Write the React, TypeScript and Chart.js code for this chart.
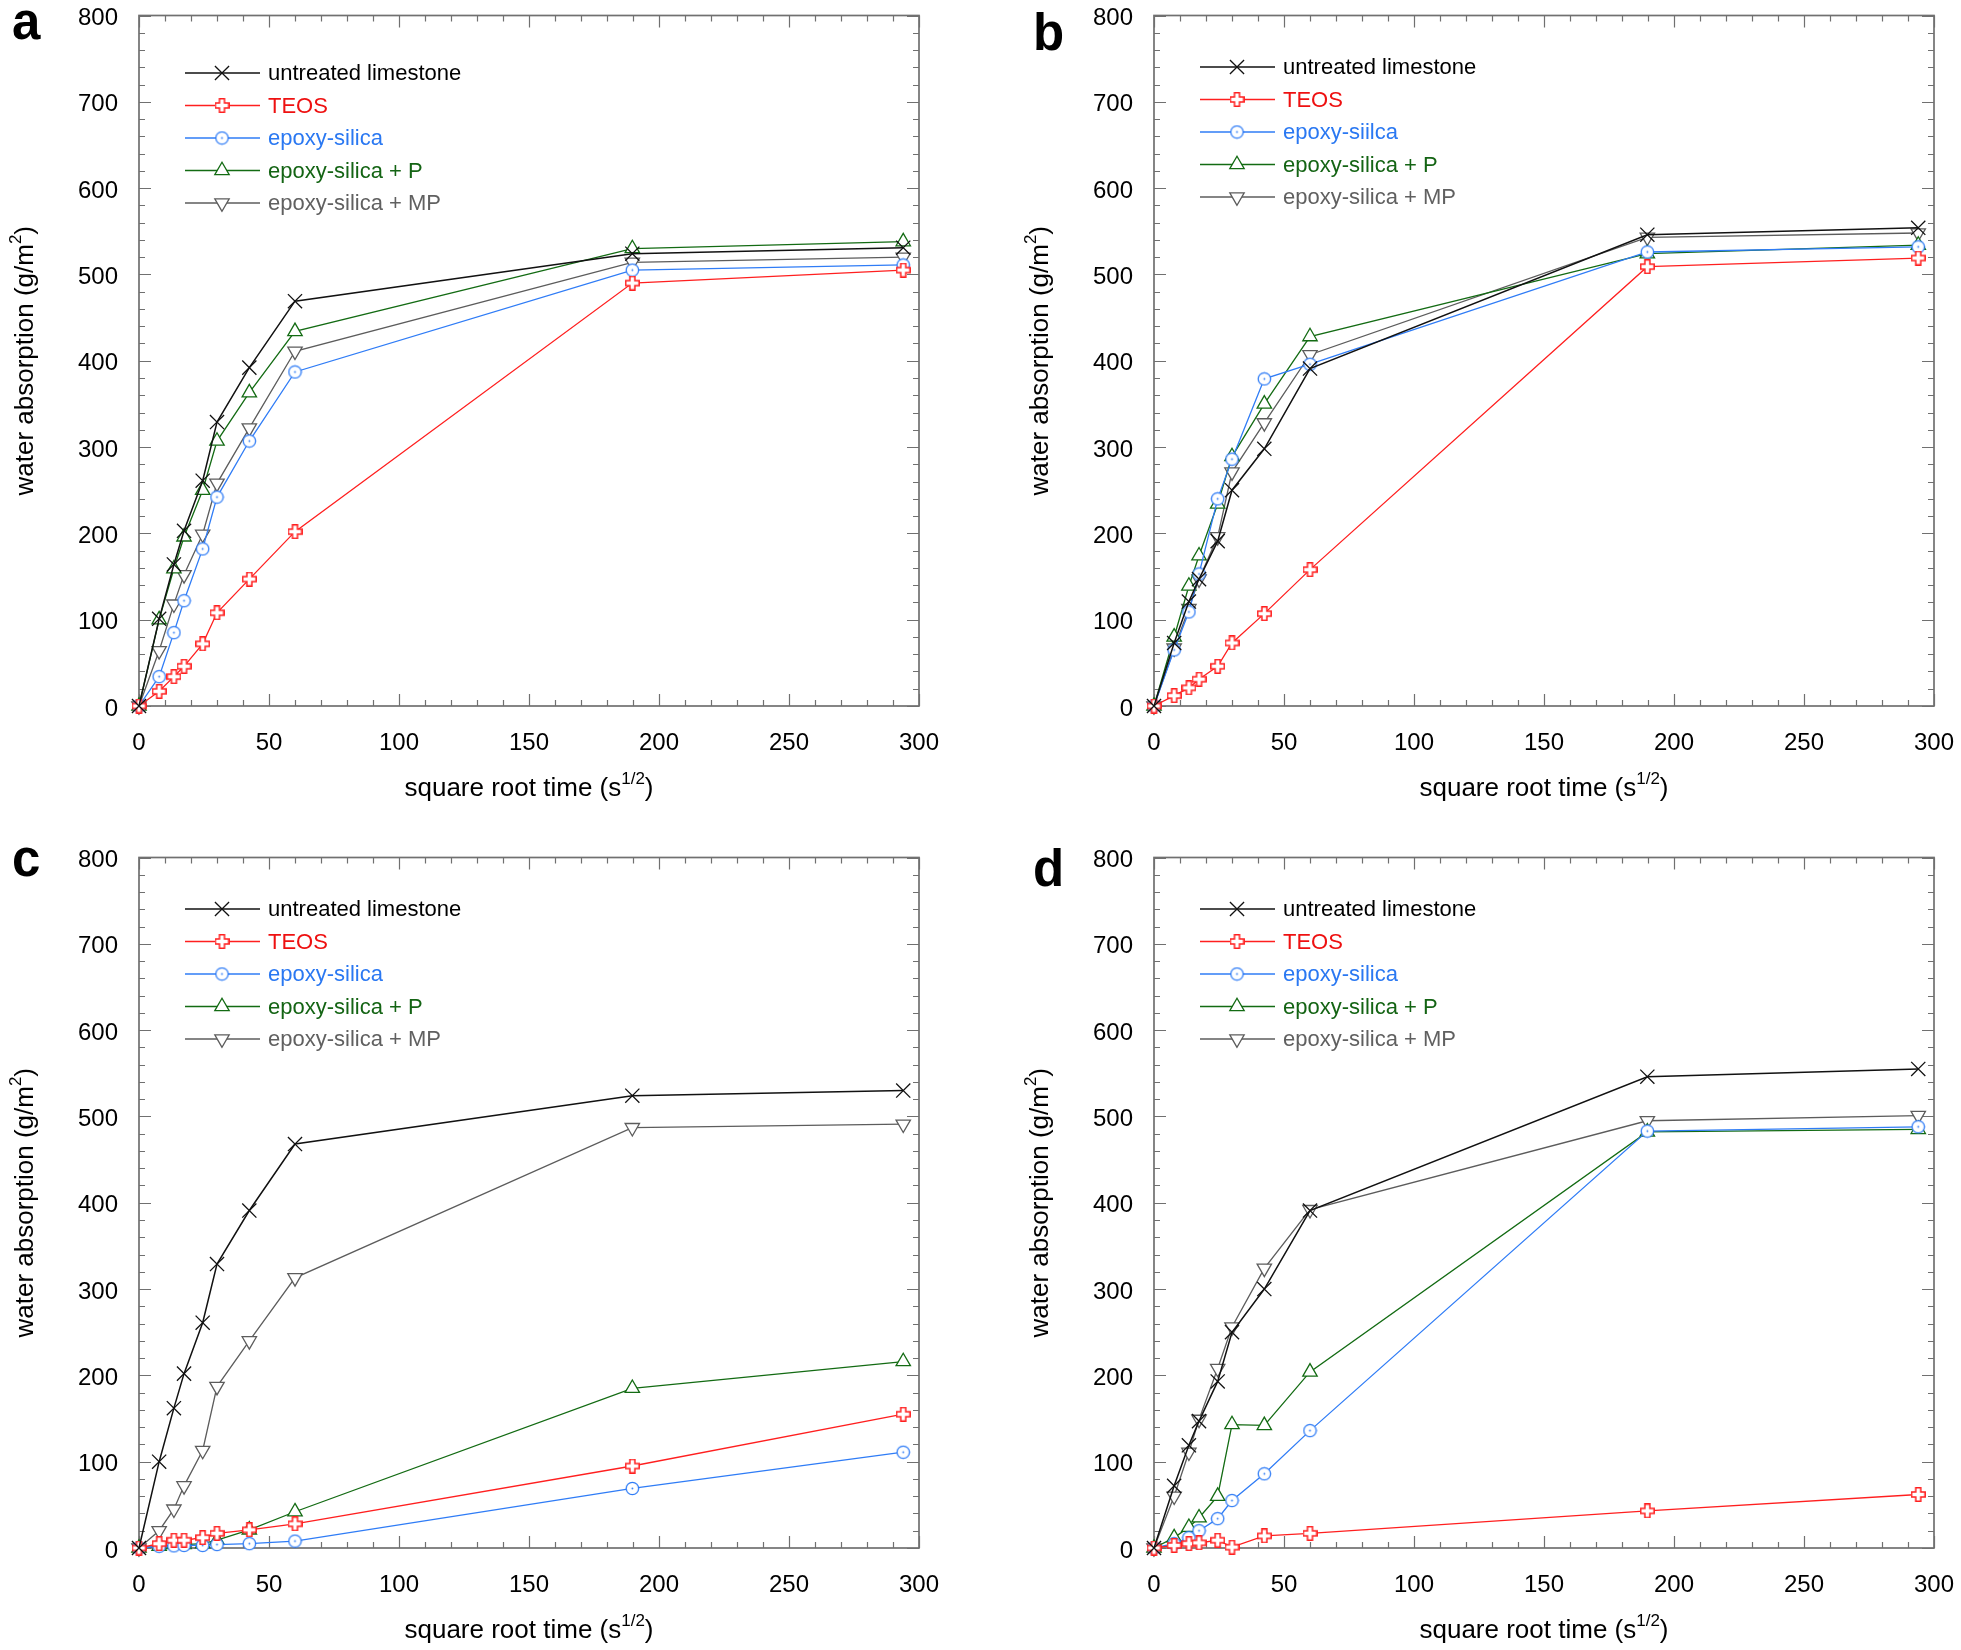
import React, { useEffect, useRef } from 'react';
import { Chart, registerables } from 'chart.js';
import { drawPoint } from 'chart.js/helpers';

Chart.register(...registerables);

// ---------- data ----------
const SQRT_TIME = [0, 7.75, 13.42, 17.32, 24.49, 30.0, 42.43, 60.0, 189.74, 293.94];

const X_TICKS = [0, 50, 100, 150, 200, 250, 300];
const Y_TICKS = [0, 100, 200, 300, 400, 500, 600, 700, 800];

const NAMES = ['untreated limestone', 'TEOS', 'epoxy-silica', 'epoxy-silica + P', 'epoxy-silica + MP'];
const NAMES_B = ['untreated limestone', 'TEOS', 'epoxy-siilca', 'epoxy-silica + P', 'epoxy-silica + MP'];

const A_UNTREATED = [0, 101, 164, 203, 261, 329, 392, 469, 524, 531];
const A_TEOS = [0, 17, 34, 46, 72, 108, 147, 202, 490, 505];
const A_EPOXY = [0, 34, 85, 122, 182, 242, 307, 387, 505, 511];
const A_EPOXY_P = [0, 100, 159, 196, 250, 307, 363, 434, 530, 538];
const A_EPOXY_MP = [0, 64, 118, 152, 199, 258, 322, 411, 514, 520];

const B_UNTREATED = [0, 73, 121, 147, 191, 250, 298, 391, 546, 554];
const B_TEOS = [0, 12, 21, 31, 46, 73, 107, 158, 509, 519];
const B_EPOXY = [0, 65, 109, 153, 240, 286, 379, 396, 526, 532];
const B_EPOXY_P = [0, 80, 139, 174, 234, 289, 350, 428, 524, 534];
const B_EPOXY_MP = [0, 67, 113, 147, 196, 271, 328, 407, 543, 548];

const C_UNTREATED = [0, 100, 162, 202, 261, 329, 391, 468, 524, 530];
const C_TEOS = [0, 5, 9, 9, 12, 17, 21, 28, 95, 155];
const C_EPOXY = [0, 2, 2.5, 3, 3, 4, 5, 8, 69, 111];
const C_EPOXY_P = [0, 2, 4, 4, 5, 9, 21, 42, 185, 216];
const C_EPOXY_MP = [0, 20, 45, 72, 113, 187, 240, 313, 487, 491];

const D_UNTREATED = [0, 72, 119, 147, 193, 250, 300, 391, 546, 555];
const D_TEOS = [0, 3, 5, 6, 9, 1, 14, 17, 43, 62];
const D_EPOXY = [0, 5, 12, 20, 34, 55, 86, 136, 483, 488];
const D_EPOXY_P = [0, 12, 24, 35, 60, 143, 142, 204, 482, 485];
const D_EPOXY_MP = [0, 60, 111, 149, 208, 256, 324, 392, 495, 501];

// ---------- layout / style ----------
const W = 946;
const H = 808;
const PLOT_LEFT = 139;
const PLOT_RIGHT = 919;
const PLOT_TOP = 15.5;
const PLOT_BOTTOM = 706;
const FONT = '"Liberation Sans", Arial, Helvetica, sans-serif';

type Style = { line: string; text: string; kind: string; radius: number; rotation: number; width: number };
const SERIES_STYLE: Style[] = [
  { line: '#111111', text: '#000000', kind: 'crossRot', radius: 10, rotation: 0, width: 1.5 },
  { line: '#ff1f1f', text: '#ee1111', kind: 'plus', radius: 7, rotation: 0, width: 1.3 },
  { line: '#2f7cf6', text: '#2a78f2', kind: 'circleDot', radius: 7, rotation: 0, width: 1.3 },
  { line: '#136b13', text: '#146414', kind: 'triangle', radius: 8.3, rotation: 0, width: 1.3 },
  { line: '#5c5c5c', text: '#606060', kind: 'triangle', radius: 8.3, rotation: 180, width: 1.3 },
];

const PANELS = [
  { letter: 'a', left: 0, top: 0, letterX: 12, letterY: 39, legendTop: 73, names: NAMES,
    values: [A_UNTREATED, A_TEOS, A_EPOXY, A_EPOXY_P, A_EPOXY_MP] },
  { letter: 'b', left: 1015, top: 0, letterX: 18, letterY: 50, legendTop: 67, names: NAMES_B,
    values: [B_UNTREATED, B_TEOS, B_EPOXY, B_EPOXY_P, B_EPOXY_MP] },
  { letter: 'c', left: 0, top: 842, letterX: 12, letterY: 34, legendTop: 67, names: NAMES,
    values: [C_UNTREATED, C_TEOS, C_EPOXY, C_EPOXY_P, C_EPOXY_MP] },
  { letter: 'd', left: 1015, top: 842, letterX: 18, letterY: 44, legendTop: 67, names: NAMES,
    values: [D_UNTREATED, D_TEOS, D_EPOXY, D_EPOXY_P, D_EPOXY_MP] },
];

function makePlus(color: string) {
  const size = 15, arm = 5;
  const c = document.createElement('canvas');
  c.width = size; c.height = size;
  const ctx = c.getContext('2d')!;
  const a = (size - arm) / 2, b = a + arm, lo = 0.8, hi = size - 0.8;
  ctx.beginPath();
  ctx.moveTo(a, lo); ctx.lineTo(b, lo); ctx.lineTo(b, a); ctx.lineTo(hi, a); ctx.lineTo(hi, b);
  ctx.lineTo(b, b); ctx.lineTo(b, hi); ctx.lineTo(a, hi); ctx.lineTo(a, b); ctx.lineTo(lo, b);
  ctx.lineTo(lo, a); ctx.lineTo(a, a); ctx.closePath();
  ctx.fillStyle = '#ffffff'; ctx.fill();
  ctx.strokeStyle = color; ctx.lineWidth = 1.5; ctx.stroke();
  return c;
}

function makeCircleDot(color: string) {
  const size = 15;
  const c = document.createElement('canvas');
  c.width = size; c.height = size;
  const ctx = c.getContext('2d')!;
  ctx.beginPath();
  ctx.arc(size / 2, size / 2, 6.2, 0, Math.PI * 2);
  ctx.fillStyle = '#ffffff'; ctx.fill();
  ctx.strokeStyle = color; ctx.lineWidth = 1.3; ctx.stroke();
  ctx.beginPath();
  ctx.arc(size / 2, size / 2, 0.9, 0, Math.PI * 2);
  ctx.fillStyle = color; ctx.fill();
  return c;
}

function drawParts(ctx: CanvasRenderingContext2D, parts: [string, boolean][], cx: number, baseY: number,
  size: number, supSize: number, raise: number) {
  const widths = parts.map(([t, sup]) => {
    ctx.font = `${sup ? supSize : size}px ${FONT}`;
    return ctx.measureText(t).width;
  });
  const total = widths.reduce((s, w) => s + w, 0);
  let x = cx - total / 2;
  ctx.textAlign = 'left';
  ctx.textBaseline = 'alphabetic';
  parts.forEach(([t, sup], i) => {
    ctx.font = `${sup ? supSize : size}px ${FONT}`;
    ctx.fillText(t, x, sup ? baseY - raise : baseY);
    x += widths[i];
  });
}

const framePlugin = {
  id: 'frameTicks',
  beforeDatasetsDraw(chart: any) {
    const { ctx, chartArea: a, scales } = chart;
    const xs = scales.x, ys = scales.y;
    ctx.save();
    ctx.strokeStyle = '#707070';
    ctx.lineWidth = 1.2;
    ctx.beginPath();
    for (let v = 0; v <= 300; v += 10) {
      const px = Math.round(xs.getPixelForValue(v)) + 0.5;
      const len = v % 50 === 0 ? 12 : 6;
      ctx.moveTo(px, a.bottom); ctx.lineTo(px, a.bottom - len);
      ctx.moveTo(px, a.top); ctx.lineTo(px, a.top + len);
    }
    for (let v = 0; v <= 800; v += 20) {
      const py = Math.round(ys.getPixelForValue(v)) + 0.5;
      const len = v % 100 === 0 ? 12 : 6;
      ctx.moveTo(a.left, py); ctx.lineTo(a.left + len, py);
      ctx.moveTo(a.right, py); ctx.lineTo(a.right - len, py);
    }
    ctx.stroke();
    ctx.lineWidth = 1.7;
    ctx.strokeRect(a.left, a.top, a.right - a.left, a.bottom - a.top);
    ctx.restore();
  },
};

const decorPlugin = {
  id: 'decor',
  afterDraw(chart: any, _args: any, opts: any) {
    const { ctx, chartArea: a } = chart;
    const cfg = opts.cfg;
    ctx.save();
    // panel letter
    ctx.fillStyle = '#000';
    ctx.font = `bold 51px ${FONT}`;
    ctx.textAlign = 'left';
    ctx.textBaseline = 'alphabetic';
    ctx.fillText(cfg.letter, cfg.letterX, cfg.letterY);
    // x title
    drawParts(ctx, [['square root time (s', false], ['1/2', true], [')', false]],
      (a.left + a.right) / 2, 796, 26, 17, 12);
    // y title
    ctx.save();
    ctx.translate(33, (a.top + a.bottom) / 2);
    ctx.rotate(-Math.PI / 2);
    drawParts(ctx, [['water absorption (g/m', false], ['2', true], [')', false]], 0, 0, 26, 17, 12);
    ctx.restore();
    // legend
    chart.data.datasets.forEach((ds: any, i: number) => {
      const st = SERIES_STYLE[i];
      const y = cfg.legendTop + i * 32.5;
      ctx.strokeStyle = ds.borderColor;
      ctx.lineWidth = ds.borderWidth;
      ctx.beginPath();
      ctx.moveTo(185, y); ctx.lineTo(260, y);
      ctx.stroke();
      ctx.fillStyle = '#ffffff';
      ctx.strokeStyle = ds.pointBorderColor;
      ctx.lineWidth = ds.pointBorderWidth;
      drawPoint(ctx, { pointStyle: ds.pointStyle, rotation: ds.pointRotation, radius: ds.pointRadius, borderWidth: ds.pointBorderWidth }, 222, y);
      ctx.fillStyle = st.text;
      ctx.font = `22px ${FONT}`;
      ctx.textAlign = 'left';
      ctx.textBaseline = 'middle';
      ctx.fillText(ds.label, 268, y + 1);
    });
    ctx.restore();
  },
};

function Panel({ cfg }: { cfg: any }) {
  const ref = useRef<HTMLCanvasElement>(null);
  useEffect(() => {
    const canvas = ref.current!;
    const datasets = cfg.values.map((vals: number[], i: number) => {
      const st = SERIES_STYLE[i];
      const ps = st.kind === 'plus' ? makePlus(st.line) : st.kind === 'circleDot' ? makeCircleDot(st.line) : st.kind;
      return {
        label: cfg.names[i],
        data: SQRT_TIME.map((x, j) => ({ x, y: vals[j] })),
        showLine: true,
        borderColor: st.line,
        borderWidth: st.width,
        pointStyle: ps,
        pointRadius: st.radius,
        pointHoverRadius: st.radius,
        pointRotation: st.rotation,
        pointBorderColor: st.line,
        pointBackgroundColor: '#ffffff',
        pointBorderWidth: 1.3,
        fill: false,
        tension: 0,
        clip: false,
      };
    });
    const tickFont = { family: FONT, size: 24 };
    const chart = new Chart(canvas, {
      type: 'scatter',
      data: { datasets },
      plugins: [framePlugin, decorPlugin],
      options: {
        responsive: false,
        animation: false,
        events: [],
        layout: { padding: { left: 0, right: W - PLOT_RIGHT, top: PLOT_TOP, bottom: 0 } },
        plugins: {
          legend: { display: false },
          tooltip: { enabled: false },
          decor: { cfg },
        } as any,
        scales: {
          x: {
            type: 'linear', min: 0, max: 300,
            afterBuildTicks: (s: any) => { s.ticks = X_TICKS.map((v) => ({ value: v })); },
            ticks: { color: '#000', font: tickFont, padding: 22.5, autoSkip: false, maxRotation: 0, minRotation: 0 },
            grid: { display: false, drawTicks: false },
            border: { display: false },
            afterFit: (s: any) => { s.height = H - PLOT_BOTTOM; s.paddingLeft = 0; s.paddingRight = 0; },
          },
          y: {
            type: 'linear', min: 0, max: 800,
            afterBuildTicks: (s: any) => { s.ticks = Y_TICKS.map((v) => ({ value: v })); },
            ticks: { color: '#000', font: tickFont, padding: 21, labelOffset: 3, autoSkip: false },
            grid: { display: false, drawTicks: false },
            border: { display: false },
            afterFit: (s: any) => { s.width = PLOT_LEFT; s.paddingTop = 0; s.paddingBottom = 0; },
          },
        },
      } as any,
    });
    return () => chart.destroy();
  }, [cfg]);
  return (
    <canvas ref={ref} width={W} height={H}
      style={{ position: 'absolute', left: cfg.left, top: cfg.top, width: W, height: H }} />
  );
}

export default function App() {
  return (
    <div style={{ position: 'absolute', left: 0, top: 0, width: 1961, height: 1650, background: '#fff' }}>
      {PANELS.map((p) => <Panel key={p.letter} cfg={p} />)}
    </div>
  );
}
